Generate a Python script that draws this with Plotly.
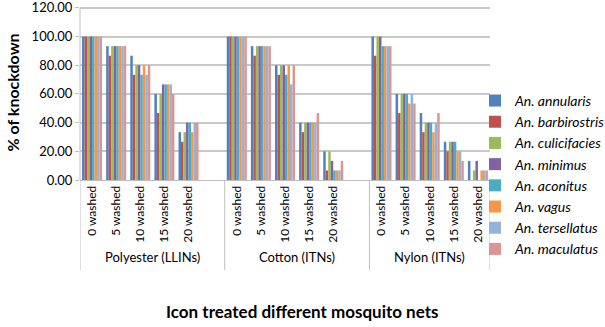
import plotly.graph_objects as go

# Net types and wash counts (x-axis categories)
net_types = ["Polyester (LLINs)", "Cotton (ITNs)", "Nylon (ITNs)"]
washes = ["0 washed", "5 washed", "10 washed", "15 washed", "20 washed"]

species = ["An. annularis", "An. barbirostris", "An. culicifacies", "An. minimus",
           "An. aconitus", "An. vagus", "An. tersellatus", "An. maculatus"]
colors = ["#4F81BD", "#C0504D", "#9BBB59", "#8064A2",
          "#4BACC6", "#F79646", "#95B3D7", "#DA9694"]

# % knockdown per species: Polyester (5 washes), Cotton (5), Nylon (5)
annularis     = [100, 93.33, 86.67, 60.00, 33.33,  100, 93.33, 80.00, 40.00, 20.00,  100.00, 60.00, 46.67, 26.67, 13.33]
barbirostris  = [100, 86.67, 73.33, 46.67, 26.67,  100, 86.67, 73.33, 33.33, 6.67,   86.67, 46.67, 33.33, 20.00, 0.00]
culicifacies  = [100, 93.33, 80.00, 60.00, 33.33,  100, 93.33, 80.00, 40.00, 20.00,  100.00, 60.00, 40.00, 26.67, 6.67]
minimus       = [100, 93.33, 80.00, 66.67, 40.00,  100, 93.33, 80.00, 40.00, 13.33,  100.00, 60.00, 40.00, 26.67, 13.33]
aconitus      = [100, 93.33, 73.33, 66.67, 40.00,  100, 93.33, 73.33, 40.00, 6.67,   93.33, 60.00, 40.00, 26.67, 0.00]
vagus         = [100, 93.33, 80.00, 66.67, 33.33,  100, 93.33, 80.00, 40.00, 6.67,   93.33, 53.33, 33.33, 20.00, 6.67]
tersellatus   = [100, 93.33, 73.33, 66.67, 40.00,  100, 93.33, 66.67, 40.00, 6.67,   93.33, 60.00, 40.00, 20.00, 6.67]
maculatus     = [100, 93.33, 80.00, 60.00, 40.00,  100, 93.33, 80.00, 46.67, 13.33,  93.33, 53.33, 46.67, 13.33, 6.67]

series = [annularis, barbirostris, culicifacies, minimus,
          aconitus, vagus, tersellatus, maculatus]

y_ticks = [0, 20, 40, 60, 80, 100, 120]
Y_TOP = 122  # a little headroom so the 120 tick and gridline are kept

# Category slots: each net type gets its five washes, with one empty slot between types
slot = []
tick_text = []
group_bounds = []
pos = 0
for gi, net in enumerate(net_types):
    start = pos
    for w in washes:
        slot.append(pos)
        tick_text.append(w)
        pos += 1
    if gi < len(net_types) - 1:
        pos += 1  # spacer slot
    group_bounds.append((start - 0.5, pos - 0.5))

FONT = "Lato"
AXIS_GREY = "#BFBFBF"
W, H = 605, 327
ML, MR, MB = 80, 115, 147
MT = (H - MB) - 172 * Y_TOP / 120  # 120 units span 172 px
plot_w = W - ML - MR
plot_h = H - MT - MB


def below_axis(pix):
    """Paper y for a point `pix` pixels below the x axis."""
    return -pix / plot_h


def px_x(pix):
    """Paper x for an absolute horizontal pixel position."""
    return (pix - ML) / plot_w


def px_y(pix):
    """Paper y for an absolute vertical pixel position."""
    return (H - MB - pix) / plot_h


fig = go.Figure()
for name, vals, col in zip(species, series, colors):
    fig.add_trace(go.Bar(
        x=slot, y=vals, name=f"<i>{name}</i>",
        marker=dict(color=col, line=dict(width=0)),
    ))

# Value axis line, stopping at the top tick
fig.add_shape(type="line", xref="paper", yref="y", x0=0, x1=0,
              y0=0, y1=y_ticks[-1], line=dict(color=AXIS_GREY, width=1))

# Divider lines below the axis and net-type labels
edges = sorted(set([b for g in group_bounds for b in g]))
for e in edges:
    fig.add_shape(type="line", xref="x", yref="paper", x0=e, x1=e,
                  y0=0, y1=below_axis(90), line=dict(color=AXIS_GREY, width=1))

for net, (a, b) in zip(net_types, group_bounds):
    fig.add_annotation(x=(a + b) / 2, y=below_axis(77), xref="x", yref="paper",
                       xanchor="center", yanchor="middle",
                       text=net, showarrow=False,
                       font=dict(family=FONT, size=13, color="#000"))

fig.add_annotation(x=px_x(302), y=below_axis(131), xref="paper", yref="paper",
                   xanchor="center", yanchor="middle",
                   text="<b>Icon treated different mosquito nets</b>",
                   showarrow=False, font=dict(family=FONT, size=17, color="#000"))

fig.update_layout(
    width=W, height=H,
    margin=dict(l=ML, r=MR, t=MT, b=MB, autoexpand=False),
    paper_bgcolor="white", plot_bgcolor="white",
    barmode="group", bargap=0.17, bargroupgap=0,
    font=dict(family=FONT, size=12, color="#000"),
    showlegend=True,
    legend=dict(x=px_x(475), xanchor="left", y=px_y(85), yanchor="top",
                font=dict(family=FONT, size=14, color="#000"),
                itemwidth=30, tracegroupgap=0, bgcolor="rgba(0,0,0,0)"),
    xaxis=dict(range=[-0.5, pos - 0.5], tickmode="array", tickvals=slot,
               ticktext=tick_text, tickangle=-90, showgrid=False,
               showline=True, linecolor=AXIS_GREY, linewidth=1,
               ticks="", tickfont=dict(family=FONT, size=12), zeroline=False),
    yaxis=dict(range=[0, Y_TOP], tickmode="array", tickvals=y_ticks,
               tickformat=".2f", showgrid=True, gridcolor="#C8C8C8", gridwidth=1.5,
               showline=False, ticks="outside", ticklen=4,
               tickcolor=AXIS_GREY, zeroline=False, ticklabeloverflow="allow",
               tickfont=dict(family=FONT, size=13),
               title=dict(text="<b>% of knockdown</b>", standoff=8,
                          font=dict(family=FONT, size=16))),
)

fig.write_html("out.html")
